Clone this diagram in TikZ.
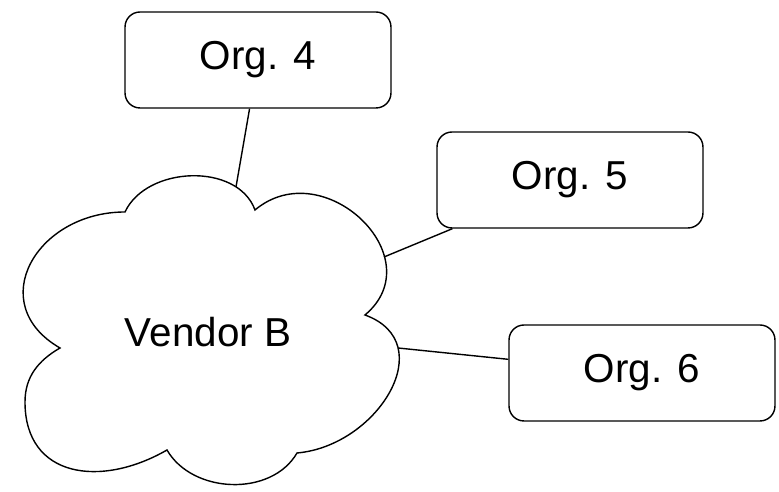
\documentclass[tikz,border=0pt]{standalone}
\usepackage{fontspec}
\setmainfont{Liberation Sans}
\usepackage{tikz}

\begin{document}
\begin{tikzpicture}[x=0.02cm, y=0.02cm, line width=0.8pt,
    orgbox/.style={draw, rectangle, rounded corners=0.3cm, minimum width=5.32cm, minimum height=1.92cm, fill=white, font=\fontsize{23}{27}\selectfont},
    link/.style={draw, line width=0.8pt}]
\useasboundingbox[fill=white] (0,0) rectangle (779,492);

% Vendor cloud
\draw[fill=white] (125,280) to[out=65, in=110] (255,282)
    to[out=40, in=40, looseness=1.5] (365,177)
    to[out=-20, in=5, looseness=1.35] (297,39)
    to[out=-120, in=-60] (167,42)
    to[out=-150, in=-90, looseness=1.3] (25,90)
    to[out=90, in=210] (60,144)
    to[out=150, in=180, looseness=1.5] cycle;
\node[font=\fontsize{23}{27}\selectfont] (vendor) at (208,160) {Vendor B};
\coordinate (c4) at (236,305);
\coordinate (c5) at (384,235);
\coordinate (c6) at (398,144);

% Organisations
\node[orgbox] (org4) at (258,432) {Org. 4};
\node[orgbox] (org5) at (570,312) {Org. 5};
\node[orgbox] (org6) at (642,119) {Org. 6};

% Links to the vendor
\draw[link] (org4) -- (c4);
\draw[link] (org5) -- (c5);
\draw[link] (org6) -- (c6);

\end{tikzpicture}
\end{document}
